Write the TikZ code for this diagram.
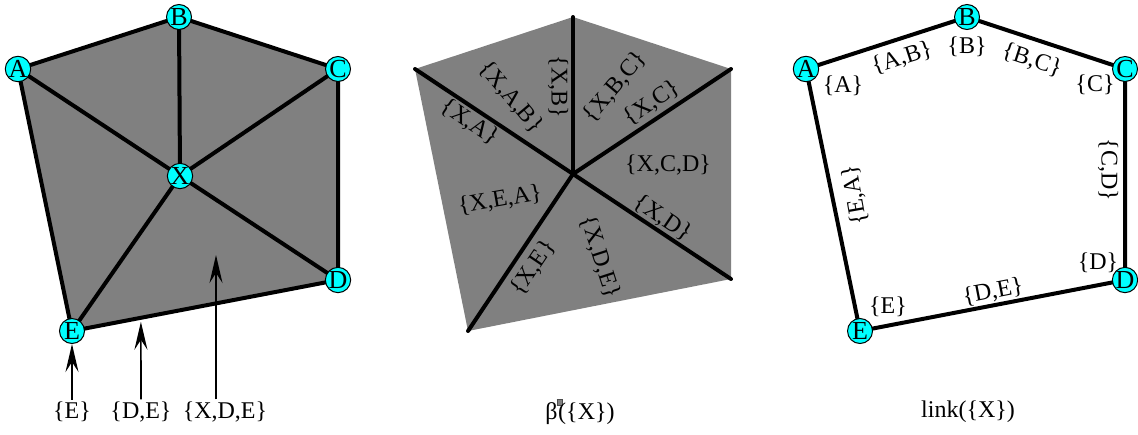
\documentclass[tikz,border=0pt]{standalone}
\usepackage{fontspec}
\setmainfont{Liberation Serif}
\usepackage{xcolor}
\usetikzlibrary{arrows.meta,calc}

\definecolor{facegray}{RGB}{128,128,128}
\definecolor{vertcyan}{RGB}{0,255,255}

\begin{document}
\begin{tikzpicture}[
    x=0.5pt, y=-0.5pt,
    font=\fontsize{12}{14}\selectfont,
    vert/.style={circle, draw=black, fill=vertcyan, line width=0.5pt, minimum size=12.5pt, inner sep=0pt, font=\fontsize{13}{13}\selectfont},
    edge/.style={line width=2pt, line cap=round},
    face/.style={fill=facegray},
    lbl/.style={inner sep=1pt},
    arr/.style={-{Stealth[length=14pt, width=6.5pt, inset=5pt]}, line width=0.8pt}
  ]
    \useasboundingbox (0,0) rectangle (1138,434);

    % left: star of X in the complex
    \coordinate (a) at (18,69);
    \coordinate (b) at (179,17);
    \coordinate (c) at (338,69);
    \coordinate (d) at (338,280);
    \coordinate (e) at (72,331);
    \coordinate (x) at (180,176);
    \fill[face] (a) -- (b) -- (c) -- (d) -- (e) -- cycle;
    \draw[edge] (a) -- (b) -- (c) -- (d) -- (e) -- cycle;
    \foreach \v in {a,b,c,d,e}
      \draw[edge] (x) -- (\v);
    \node[vert] (A) at (a) {A};
    \node[vert] (B) at (b) {B};
    \node[vert] (C) at (c) {C};
    \node[vert] (D) at (d) {D};
    \node[vert] (E) at (e) {E};
    \node[vert] (X) at (x) {X};

    \node[lbl] (lE) at (72,412) {\{E\}};
    \node[lbl] (lDE) at (141,412) {\{D,E\}};
    \node[lbl] (lXDE) at (225,412) {\{X,D,E\}};
    \coordinate (pDE) at ($(e)!0.259!(d)+(0,4)$);
    \coordinate (pXDE) at (216,255);
    \draw[arr] (lE.north) -- (E.south);
    \draw[arr] (lDE.north) -- (pDE);
    \draw[arr] (lXDE.north -| pXDE) -- (pXDE);

    % middle: the open star
    \coordinate (ma) at (415,69);
    \coordinate (mb) at (573,17);
    \coordinate (mc) at (731,69);
    \coordinate (md) at (731,279);
    \coordinate (me) at (468,331);
    \coordinate (mx) at (573,174);
    \fill[face] (ma) -- (mb) -- (mc) -- (md) -- (me) -- cycle;
    \foreach \v in {ma,mb,mc,md,me}
      \draw[edge] (mx) -- (\v);
    \node[lbl, rotate=-90] (sXB) at (558,87) {\{X,B\}};
    \node[lbl, rotate=-50] (sXAB) at (511,97) {\{X,A,B\}};
    \node[lbl, rotate=-34] (sXA) at (470,122) {\{X,A\}};
    \node[lbl, rotate=50] (sXBC) at (615,87) {\{X,B,C\}};
    \node[lbl, rotate=34] (sXC) at (652,103) {\{X,C\}};
    \node[lbl] (sXCD) at (668,165) {\{X,C,D\}};
    \node[lbl, rotate=-34] (sXD) at (663,218) {\{X,D\}};
    \node[lbl, rotate=10] (sXEA) at (500,200) {\{X,E,A\}};
    \node[lbl, rotate=56] (sXE) at (533,268) {\{X,E\}};
    \node[lbl, rotate=-72] (sXDE) at (600,257) {\{X,D,E\}};
    \node[lbl] (beta) at (580,412) {β\hspace{-0.5pt}\raisebox{1.35ex}{\setlength{\fboxsep}{0pt}\setlength{\fboxrule}{0.3pt}\fcolorbox{black!70}{facegray}{\rule{0pt}{2.4pt}\rule{2.4pt}{0pt}}}\hspace{-2.2pt}(\{X\})};

    % right: the link
    \coordinate (ra) at (806,69);
    \coordinate (rb) at (967,17);
    \coordinate (rc) at (1125,69);
    \coordinate (rd) at (1125,280);
    \coordinate (re) at (860,331);
    \draw[edge] (ra) -- (rb) -- (rc) -- (rd) -- (re) -- cycle;
    \node[vert] (RA) at (ra) {A};
    \node[vert] (RB) at (rb) {B};
    \node[vert] (RC) at (rc) {C};
    \node[vert] (RD) at (rd) {D};
    \node[vert] (RE) at (re) {E};
    \node[lbl] (kA) at (843,86) {\{A\}};
    \node[lbl, rotate=18] (kAB) at (902,58) {\{A,B\}};
    \node[lbl] (kB) at (967,47) {\{B\}};
    \node[lbl, rotate=-18] (kBC) at (1032,60) {\{B,C\}};
    \node[lbl] (kC) at (1095,85) {\{C\}};
    \node[lbl, rotate=-90] (kCD) at (1108,170) {\{C,D\}};
    \node[lbl] (kD) at (1098,263) {\{D\}};
    \node[lbl, rotate=11] (kDE) at (993,292) {\{D,E\}};
    \node[lbl] (kE) at (888,307) {\{E\}};
    \node[lbl, rotate=100] (kEA) at (855,195) {\{E,A\}};
    \node[lbl] (link) at (968,412) {link(\{X\})};
  \end{tikzpicture}
\end{document}
